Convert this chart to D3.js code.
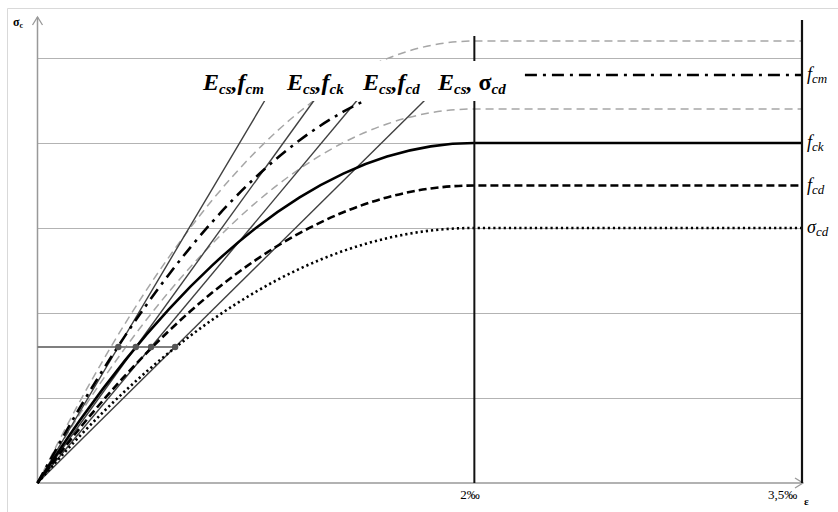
<!DOCTYPE html>
<html><head><meta charset="utf-8">
<script src="https://cdn.jsdelivr.net/npm/d3@7"></script>
<style>body{margin:0;background:#fff}svg{display:block}</style>
</head><body>
<script>
// ---- data ----
const strainTicks = [2, 3.5];
const strainTickLabels = ["2‰", "3,5‰"];
const gridStress = [10, 20, 30, 40, 50];
const curveNames = ["fcm", "fck", "fcd", "σcd"];
const curveStrength = [48, 40, 35, 30];
const boundStrength = [52, 44];
const shapeStrain = [0, 0.2, 0.4, 0.6, 0.8, 1.0, 1.2, 1.4, 1.6, 1.8, 2.0];
const shapeRatio = [0, 0.19, 0.36, 0.51, 0.64, 0.75, 0.84, 0.91, 0.96, 0.99, 1.0];
const secantStress = 16;
const secantStrain = [0.37, 0.45, 0.52, 0.63];
const secantTopStress = 47;
const secantLabelMain = ["f", "f", "f", "σ"];
const secantLabelSub = ["cm", "ck", "cd", "cd"];
const secantLabelX = [203, 287, 363, 438];

const W = 838, H = 512;
const svg = d3.select("body").append("svg").attr("width", W).attr("height", H);
const x = d3.scaleLinear().domain([0, 3.5]).range([37.5, 802]);
const y = d3.scaleLinear().domain([0, 10]).range([483, 398]);

// frame
svg.append("path").attr("d", `M7.5,${H} V8.5 H${W}`).attr("fill", "none").attr("stroke", "#d9d9d9").attr("stroke-width", 1);

// grid
svg.selectAll(".grid").data(gridStress).enter().append("line")
  .attr("x1", x(0)).attr("x2", x(3.5))
  .attr("y1", d => Math.round(y(d)) + 0.5).attr("y2", d => Math.round(y(d)) + 0.5)
  .attr("stroke", "#b3b3b3").attr("stroke-width", 1.2);

// axes
const axisColor = "#999";
svg.append("line").attr("x1", x(0)).attr("x2", x(0)).attr("y1", y(0)).attr("y2", 17).attr("stroke", axisColor).attr("stroke-width", 1.5);
svg.append("path").attr("d", `M${x(0)-5},25 L${x(0)},17 L${x(0)+5},25`).attr("fill", "none").attr("stroke", axisColor).attr("stroke-width", 1.3);
svg.append("line").attr("x1", x(0)).attr("x2", x(3.5)+1).attr("y1", y(0)).attr("y2", y(0)).attr("stroke", axisColor).attr("stroke-width", 1.5);
svg.append("path").attr("d", `M${x(3.5)-7},${y(0)-5} L${x(3.5)+1},${y(0)} L${x(3.5)-7},${y(0)+5}`).attr("fill", "none").attr("stroke", axisColor).attr("stroke-width", 1.3);

// curve builder
const line = d3.line().x(d => x(d[0])).y(d => y(d[1])).curve(d3.curveMonotoneX);
function curvePts(f) {
  const pts = shapeStrain.map((e, i) => [e, f * shapeRatio[i]]);
  pts.push([3.5, f]);
  return pts;
}

// grey bound curves
boundStrength.forEach(f => {
  svg.append("path").attr("d", line(curvePts(f))).attr("fill", "none")
    .attr("stroke", "#a6a6a6").attr("stroke-width", 1.5).attr("stroke-dasharray", "8,5");
});

// secant lines
secantStrain.forEach(e => {
  const eTop = e * secantTopStress / secantStress;
  svg.append("line").attr("x1", x(0)).attr("y1", y(0)).attr("x2", x(eTop)).attr("y2", y(secantTopStress))
    .attr("stroke", "#404040").attr("stroke-width", 1.4);
});

// main curves
const styles = [
  { dash: "12,6,3,6", w: 2.6 },
  { dash: null, w: 2.6 },
  { dash: "8,4", w: 2.6 },
  { dash: "2.2,3", w: 2.6 }
];
curveStrength.forEach((f, i) => {
  const p = svg.append("path").attr("d", line(curvePts(f))).attr("fill", "none")
    .attr("stroke", "#000").attr("stroke-width", styles[i].w);
  if (styles[i].dash) p.attr("stroke-dasharray", styles[i].dash);
});

// horizontal reference at secant stress
svg.append("line").attr("x1", x(0)).attr("x2", x(secantStrain[3])).attr("y1", y(secantStress)).attr("y2", y(secantStress))
  .attr("stroke", "#7f7f7f").attr("stroke-width", 1.8);
svg.selectAll(".pt").data(secantStrain).enter().append("circle")
  .attr("cx", d => x(d)).attr("cy", y(secantStress)).attr("r", 3.2).attr("fill", "#555");

// vertical lines
svg.append("line").attr("x1", x(2)).attr("x2", x(2)).attr("y1", 36).attr("y2", y(0)).attr("stroke", "#111").attr("stroke-width", 2);
svg.append("line").attr("x1", x(3.5)).attr("x2", x(3.5)).attr("y1", 20).attr("y2", y(0)).attr("stroke", "#111").attr("stroke-width", 2.2);

// white label band
svg.append("rect").attr("x", 196).attr("y", 61).attr("width", 325).attr("height", 40).attr("fill", "#fff");

// secant labels
const serif = "'Liberation Serif','Times New Roman',serif";
secantLabelMain.forEach((m, i) => {
  const t = svg.append("text").attr("x", secantLabelX[i]).attr("y", 90)
    .attr("font-family", serif).attr("font-weight", "bold").attr("font-style", "italic").attr("font-size", 24).attr("fill", "#000");
  t.append("tspan").text("E");
  t.append("tspan").attr("dy", 4).attr("font-size", 15).text("cs");
  t.append("tspan").attr("dy", -4).text(i === 3 ? ", " : ",");
  const mt = t.append("tspan").text(m);
  if (i === 3) mt.attr("font-style", "normal");
  t.append("tspan").attr("dy", 4).attr("font-size", 15).text(secantLabelSub[i]);
});

// right labels
curveNames.forEach((n, i) => {
  const t = svg.append("text").attr("x", 807).attr("y", y(curveStrength[i]) + 5)
    .attr("font-family", serif).attr("font-style", "italic").attr("font-size", 18).attr("fill", "#000");
  t.append("tspan").text(n.charAt(0));
  t.append("tspan").attr("dy", 3).attr("font-size", 13).text(n.slice(1));
});

// axis tick labels
strainTicks.forEach((s, i) => {
  svg.append("text").attr("x", i === 0 ? x(s) - 14 : x(s) - 34).attr("y", 499)
    .attr("font-family", serif).attr("font-size", 13).attr("fill", "#000").text(strainTickLabels[i]);
});
svg.append("text").attr("x", 804).attr("y", 505).attr("font-family", serif).attr("font-weight", "bold").attr("font-size", 11).text("ε");
const sl = svg.append("text").attr("x", 13).attr("y", 26).attr("font-family", serif).attr("font-weight", "bold").attr("font-size", 12);
sl.append("tspan").text("σ");
sl.append("tspan").attr("dy", 2).attr("font-size", 8).text("c");
</script>
</body></html>
